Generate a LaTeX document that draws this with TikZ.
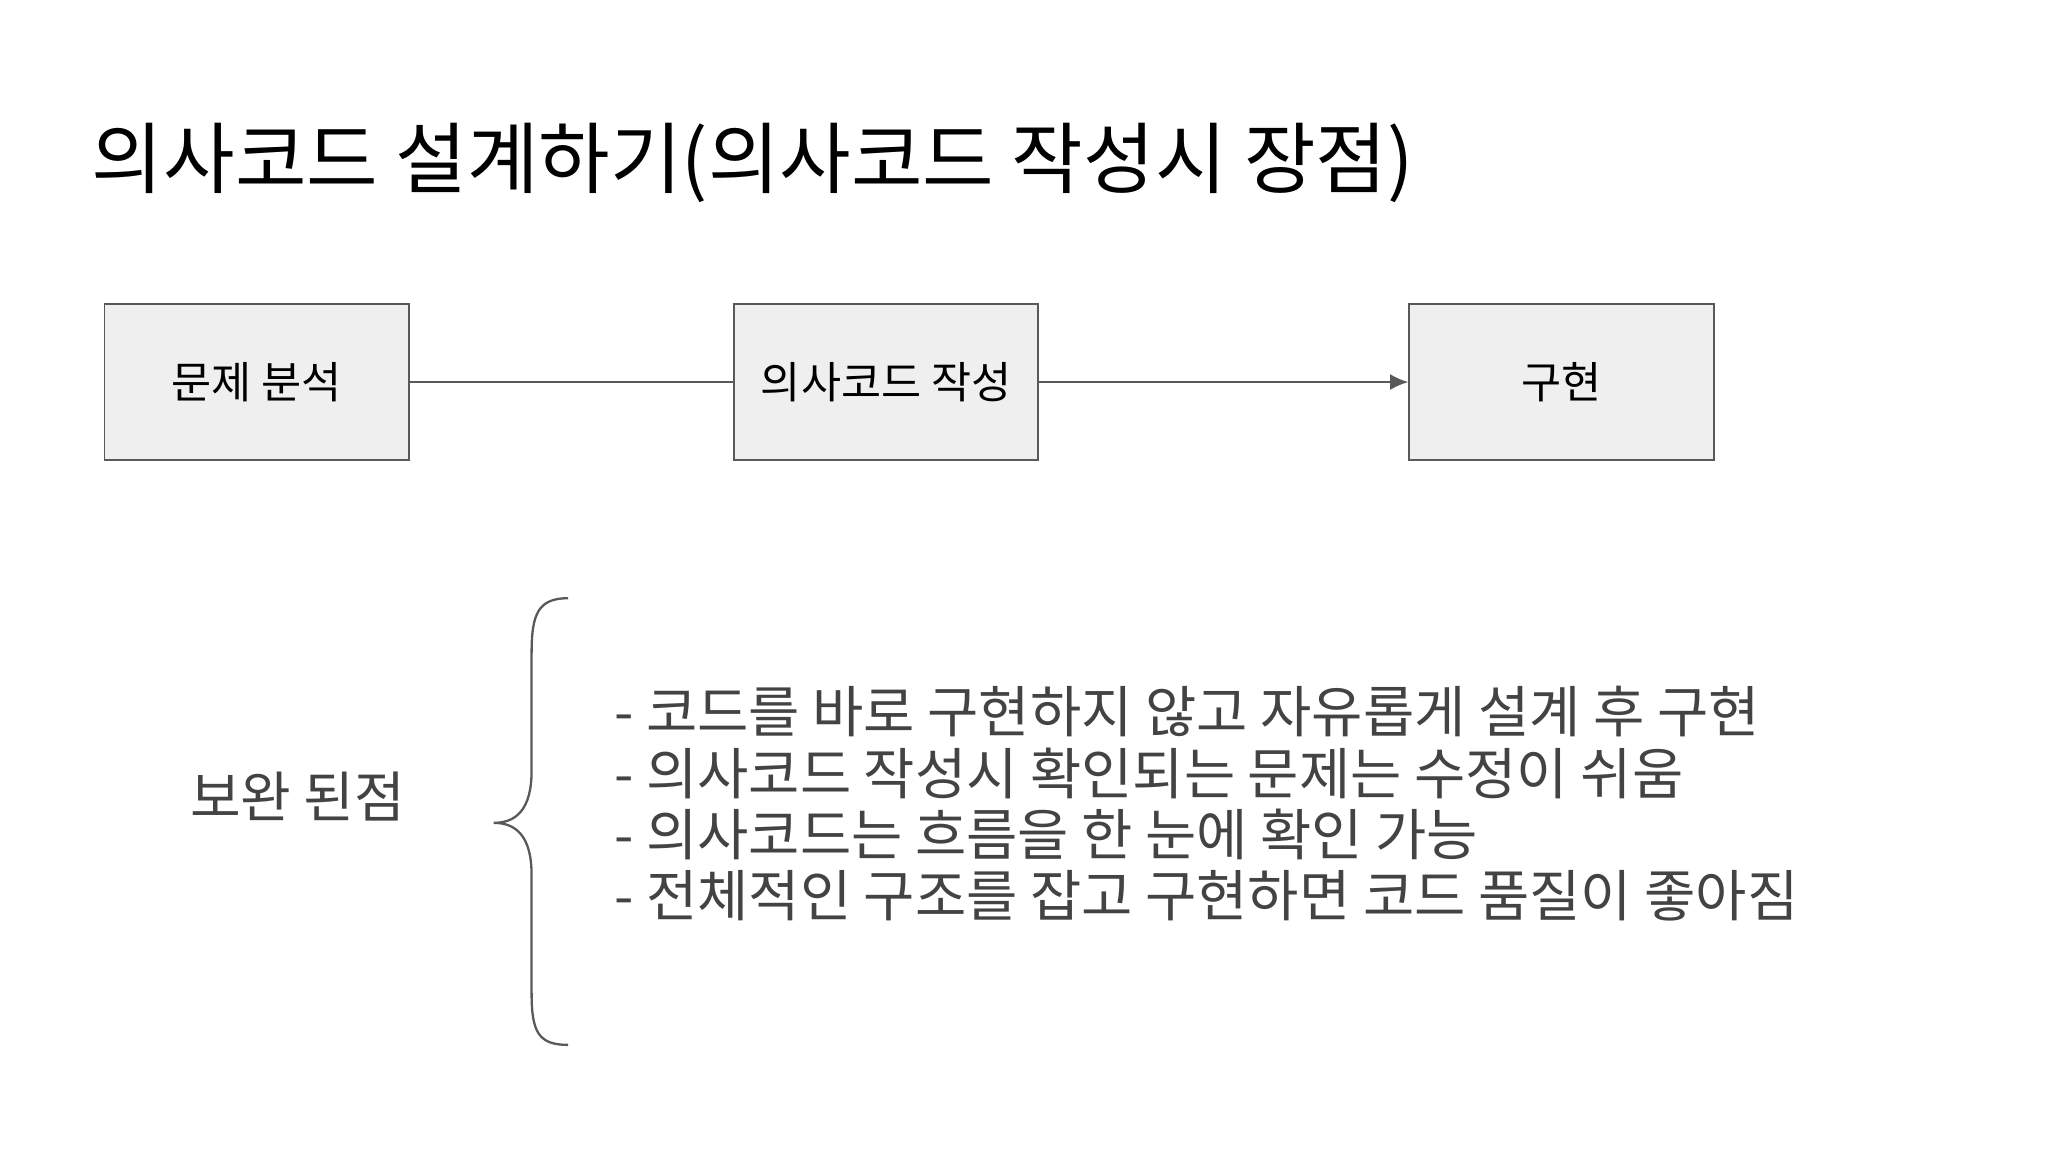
\documentclass[tikz,border=0pt]{standalone}
\usepackage{fontspec}
\setmainfont{Noto Sans CJK KR}
\usetikzlibrary{arrows.meta}
\definecolor{boxfill}{HTML}{EFEFEF}
\definecolor{boxline}{HTML}{595959}
\definecolor{txt}{HTML}{434343}
\begin{document}
\begin{tikzpicture}[x=0.02cm,y=-0.02cm,
  stepbox/.style={draw=boxline,fill=boxfill,line width=0.8pt,minimum width=4.66cm,minimum height=2.38cm,inner sep=0pt,font=\fontsize{19}{23}\selectfont,text=black},
  conn/.style={draw=boxline,line width=1pt},
  item/.style={anchor=west,text=txt,font=\fontsize{24.3}{29}\selectfont,inner sep=0pt}]
\useasboundingbox (0,0) rectangle (1568,882);
\node[anchor=west,inner sep=0pt,font=\fontsize{33.9}{40}\selectfont] (title) at (70,125) {의사코드 설계하기(의사코드 작성시 장점)};
\node[stepbox] (a) at (196.5,292.5) {문제 분석};
\node[stepbox] (b) at (678.5,292.5) {의사코드 작성};
\node[stepbox] (c) at (1195.5,292.5) {구현};
\draw[conn] (a) -- (b);
\draw[conn,-{Latex[length=8pt,width=7pt]}] (b) -- (c);
\node[text=txt,font=\fontsize{24}{29}\selectfont] (lab) at (228,610) {보완 된점};
\coordinate (bt) at (435,458);
\coordinate (bb) at (435,800);
\coordinate (bm) at (378,630);
\draw[boxline,line width=1pt] (bt) .. controls (412,458) and (407,470) .. (407,500) -- (407,590) .. controls (407,620) and (395,630) .. (bm) .. controls (395,630) and (407,640) .. (407,670) -- (407,760) .. controls (407,790) and (412,800) .. (bb);
\node[item] (l1) at (470,545) {- 코드를 바로 구현하지 않고 자유롭게 설계 후 구현};
\node[item] (l2) at (470,592) {- 의사코드 작성시 확인되는 문제는 수정이 쉬움};
\node[item] (l3) at (470,639) {- 의사코드는 흐름을 한 눈에 확인 가능};
\node[item] (l4) at (470,686) {- 전체적인 구조를 잡고 구현하면 코드 품질이 좋아짐};
\end{tikzpicture}
\end{document}
